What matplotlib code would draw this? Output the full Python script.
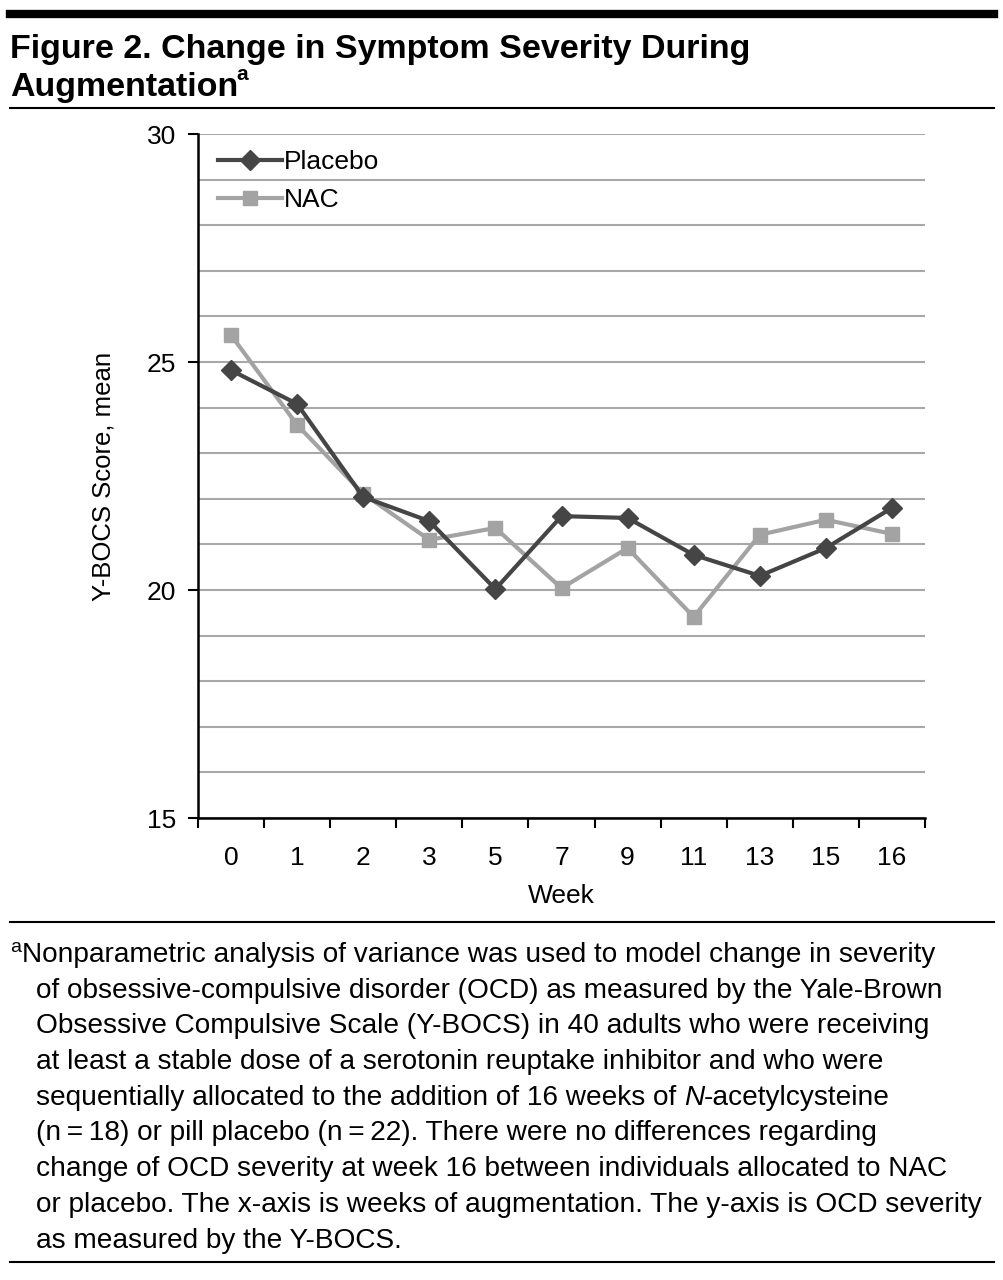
import matplotlib
matplotlib.use("Agg")
import matplotlib.pyplot as plt
from matplotlib import font_manager
from matplotlib.lines import Line2D

# 資料
weeks = ["0", "1", "2", "3", "5", "7", "9", "11", "13", "15", "16"]
placebo = [24.82, 24.08, 22.04, 21.51, 20.02, 21.62, 21.58, 20.77, 20.31, 20.92, 21.80]
nac = [25.59, 23.62, 22.11, 21.10, 21.36, 20.04, 20.92, 19.41, 21.21, 21.54, 21.23]

title_lines = ["Figure 2. Change in Symptom Severity During", "Augmentation"]
caption_lines = [
    "Nonparametric analysis of variance was used to model change in severity",
    "of obsessive-compulsive disorder (OCD) as measured by the Yale-Brown",
    "Obsessive Compulsive Scale (Y-BOCS) in 40 adults who were receiving",
    "at least a stable dose of a serotonin reuptake inhibitor and who were",
    "sequentially allocated to the addition of 16 weeks of |N|-acetylcysteine",
    "(n\u2009=\u200918) or pill placebo (n\u2009=\u200922). There were no differences regarding",
    "change of OCD severity at week 16 between individuals allocated to NAC",
    "or placebo. The x-axis is weeks of augmentation. The y-axis is OCD severity",
    "as measured by the Y-BOCS.",
]

names = {f.name for f in font_manager.fontManager.ttflist}
font = "DejaVu Sans"
for cand in ["Liberation Sans Narrow", "DejaVu Sans Condensed", "Liberation Sans"]:
    if cand in names:
        font = cand
        break
plt.rcParams["font.family"] = [font, "DejaVu Sans"]

W, H = 1004, 1280
fig = plt.figure(figsize=(W / 100, H / 100), dpi=100)
renderer = fig.canvas.get_renderer()


def put(x, y, s, **kw):
    # x, y 為像素座標（由上往下）
    t = fig.text(x / W, 1 - y / H, s, va="baseline", ha="left", **kw)
    return t


def width_px(t):
    bb = t.get_window_extent(renderer=renderer)
    return bb.width


# 頂部粗線與分隔線
fig.add_artist(Line2D([10 / W, 994 / W], [1 - 14 / H, 1 - 14 / H], color="black", lw=6))
fig.add_artist(Line2D([10 / W, 994 / W], [1 - 108 / H, 1 - 108 / H], color="black", lw=1.5))
fig.add_artist(Line2D([10 / W, 994 / W], [1 - 922 / H, 1 - 922 / H], color="black", lw=1.5))
fig.add_artist(Line2D([10 / W, 994 / W], [1 - 1262 / H, 1 - 1262 / H], color="black", lw=1.5))

# 標題
put(10, 58, title_lines[0], fontsize=24.5, fontweight="bold")
t = put(10, 96, title_lines[1], fontsize=24.5, fontweight="bold")
put(10 + width_px(t) - 2, 80, "a", fontsize=15, fontweight="bold")

# 圖表
ax = fig.add_axes([198 / W, 1 - 818 / H, (925 - 198) / W, (818 - 134) / H])
x = list(range(len(weeks)))
ax.plot(x, placebo, color="#454545", lw=3, marker="D", ms=10, label="Placebo", zorder=4)
ax.plot(x, nac, color="#a3a3a3", lw=3, marker="s", ms=10.5, label="NAC", zorder=3)

ax.set_xlim(-0.5, len(weeks) - 0.5)
ax.set_ylim(15, 30)
ax.set_yticks([15, 20, 25, 30])
ax.set_yticks(range(15, 31), minor=True)
ax.tick_params(axis="y", which="minor", length=0)
ax.grid(axis="y", which="both", color="#a8a8a8", lw=1.5)
ax.set_axisbelow(True)
ax.set_xticks(x)
ax.set_xticklabels(weeks)
ax.set_xticks([i - 0.5 for i in range(len(weeks) + 1)], minor=True)
ax.tick_params(axis="x", which="major", length=0, pad=20, labelsize=19)
ax.tick_params(axis="x", which="minor", length=7, width=1.5, direction="out")
ax.tick_params(axis="y", which="major", length=7, width=1.5, labelsize=19, pad=9)
for s in ["top", "right"]:
    ax.spines[s].set_visible(False)
for s in ["left", "bottom"]:
    ax.spines[s].set_linewidth(1.8)
ax.set_xlabel("Week", fontsize=19, labelpad=10)
ax.set_ylabel("Y-BOCS Score, mean", fontsize=18.5, labelpad=22)
ax.legend(loc="upper left", frameon=False, fontsize=19, handlelength=2.4,
          handletextpad=0.1, labelspacing=0.55, borderaxespad=0.2,
          bbox_to_anchor=(0.006, 1.0))

# 註腳
y0 = 962
step = 35.7
sup = put(10, y0 - 10, "a", fontsize=14)
for i, line in enumerate(caption_lines):
    yy = y0 + i * step
    xx = 22 if i == 0 else 36
    parts = line.split("|")
    for j, p in enumerate(parts):
        t = put(xx, yy, p, fontsize=20.2, style="italic" if j % 2 else "normal")
        xx += width_px(t)

fig.savefig("out.png", dpi=100)
